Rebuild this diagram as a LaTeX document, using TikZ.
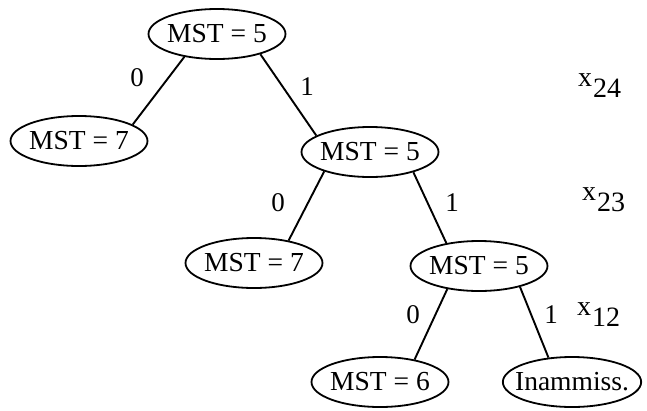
\documentclass[tikz,border=0pt]{standalone}
\usepackage{fontspec}
\setmainfont{Liberation Serif}
\usetikzlibrary{shapes.geometric}
\begin{document}
\begin{tikzpicture}[x=1pt,y=-1pt,
  state/.style={ellipse,draw,line width=1.8pt,minimum width=137pt,minimum height=50pt,inner xsep=-8pt,inner ysep=0pt,font=\fontsize{27.5}{30}\selectfont},
  edge/.style={line width=1.9pt},
  lbl/.style={inner sep=0pt,font=\fontsize{27}{30}\selectfont},
  var/.style={inner sep=0pt,anchor=base west,font=\fontsize{28}{30}\selectfont}]
\useasboundingbox (0,0) rectangle (647,410);
\node[state] (r)   at (217,34)  {MST = 5};
\node[state] (l)   at (79,141)  {MST = 7};
\node[state] (m)   at (370,152) {MST = 5};
\node[state] (ml)  at (254,263) {MST = 7};
\node[state] (mr)  at (479,266) {MST = 5};
\node[state] (a)   at (380,382) {MST = 6};
\node[state] (b)   at (572,382) {Inammiss.};
\draw[edge] (r.215) -- (l.17);
\draw[edge] (r.335) -- (m.163);
\draw[edge] (m.203) -- (ml.33);
\draw[edge] (m.335) -- (mr.145);
\draw[edge] (mr.216) -- (a.33);
\draw[edge] (mr.333) -- (b.134);
\node[lbl] (e1) at (137,78)  {0};
\node[lbl] (e2) at (307,87)  {1};
\node[lbl] (e3) at (278,203) {0};
\node[lbl] (e4) at (452,203) {1};
\node[lbl] (e5) at (413,315) {0};
\node[lbl] (e6) at (551,315) {1};
\node[var] (v1) at (578,86)  {x\hspace{1pt}\raisebox{-11pt}{24}};
\node[var] (v2) at (582,200) {x\hspace{1pt}\raisebox{-11pt}{23}};
\node[var] (v3) at (577,315) {x\hspace{1pt}\raisebox{-11pt}{12}};
\end{tikzpicture}
\end{document}
